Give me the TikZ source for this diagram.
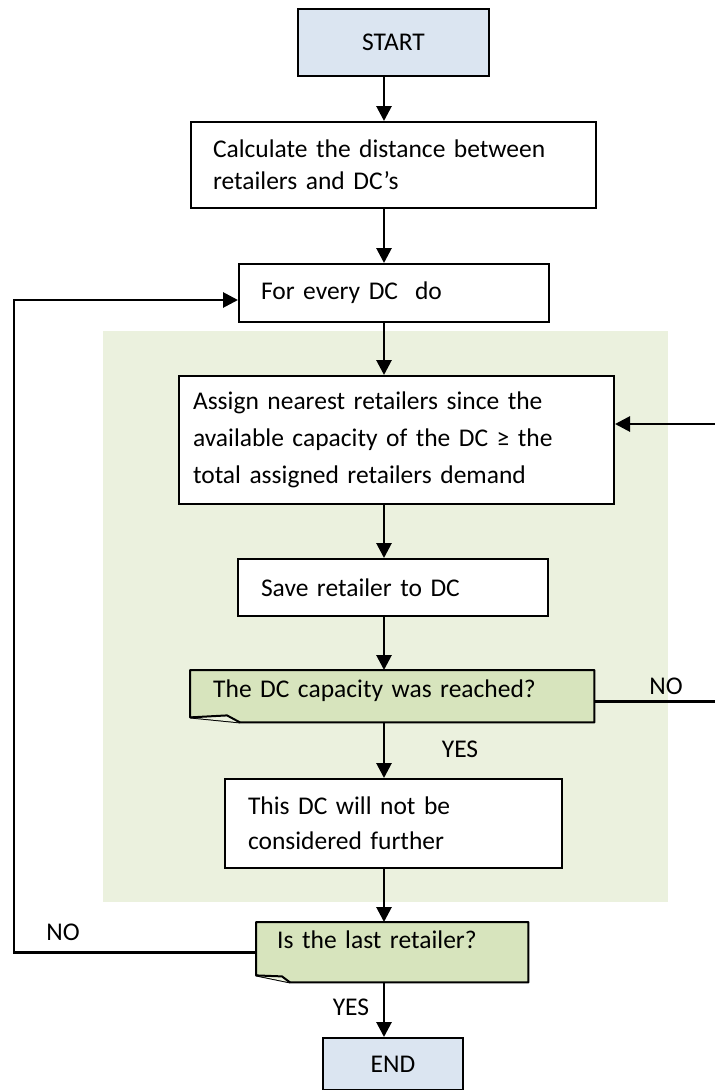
\documentclass[tikz,border=0pt]{standalone}
\usepackage{fontspec}
\setmainfont{Carlito}
\usetikzlibrary{arrows.meta,positioning,backgrounds}
\definecolor{termfill}{RGB}{219,229,241}
\definecolor{decfill}{RGB}{215,228,189}
\definecolor{loopfill}{RGB}{235,241,222}
\newcommand{\boxfont}{\fontsize{25.5}{35}\selectfont}
\tikzstyle{startstop} = [rectangle, anchor=north west, draw=black, line width=2pt, fill=termfill, font=\boxfont, inner sep=0pt]
\tikzstyle{process} = [rectangle, anchor=north west, draw=black, line width=2pt, fill=white, align=left, font=\boxfont, inner ysep=0pt]
\tikzstyle{decision} = [rectangle, anchor=north west, align=left, font=\boxfont, inner ysep=8pt]
\tikzstyle{decshape} = [draw=black, line width=2pt, fill=decfill, line join=round]
\tikzstyle{answer} = [font=\boxfont, inner sep=0pt]
\tikzstyle{arrow} = [line width=2.8pt, -{Triangle[length=15pt,width=15pt]}]

\begin{document}
\begin{tikzpicture}[x=1pt, y=-1pt]
\useasboundingbox (0,0) rectangle (715,1090);

\node (start) [startstop, minimum width=191pt, minimum height=67pt] at (297,8) {START};
\node (calc) [process, text width=361pt, inner xsep=22pt, minimum height=86pt, font=\fontsize{25.5}{32}\selectfont] at (190,121) {Calculate the distance between\\retailers and DC's};
\node (forevery) [process, text width=266pt, inner xsep=22pt, minimum height=58pt] at (238,263) {For every DC~ do};
\node (assign) [process, text width=407pt, inner xsep=14pt, minimum height=128pt, font=\fontsize{25.5}{37}\selectfont] at (178,375) {Assign nearest retailers since the\\available capacity of the DC ≥ the\\total assigned retailers demand};
\node (save) [process, text width=264pt, inner xsep=23pt, minimum height=57pt] at (237,558) {Save retailer to DC};
\node (dec1) [decision, text width=358pt, inner xsep=23pt, text height=19pt, text depth=17pt] at (190,670) {The DC capacity was reached?};
\node (drop) [process, text width=291pt, inner xsep=23pt, minimum height=89pt] at (224,778) {This DC will not be\\considered further};
\node (dec2) [decision, text width=230pt, inner xsep=21pt, text height=18pt, text depth=26pt] at (256,922) {Is the last retailer?};
\node (end) [startstop, minimum width=140pt, minimum height=52pt] at (322,1037) {END};

\node (yes1) [answer] at (460,749) {YES};
\node (no1) [answer] at (666,686) {NO};
\node (yes2) [answer] at (351,1007) {YES};
\node (no2) [answer] at (63,932) {NO};

% column of the main flow and the two return lines
\coordinate (axis) at (384,0);
\coordinate (rim) at (14,0);
\coordinate (edge) at (717,0);
\coordinate (noout) at ([yshift=-5pt]dec1.east);
\coordinate (noin) at ([yshift=16pt]assign.east);
\coordinate (loopin) at ([yshift=-7pt]forevery.west);

\draw [arrow] (start.south -| axis) -- (calc.north -| axis);
\draw [arrow] (calc.south -| axis) -- (forevery.north -| axis);
\draw [arrow] (forevery.south -| axis) -- (assign.north -| axis);
\draw [arrow] (assign.south -| axis) -- (save.north -| axis);
\draw [arrow] (save.south -| axis) -- (dec1.north -| axis);
\draw [arrow] (dec1.south -| axis) -- (drop.north -| axis);
\draw [arrow] (drop.south -| axis) -- (dec2.north -| axis);
\draw [arrow] (dec2.south -| axis) -- (end.north -| axis);
\draw [arrow] (noout) -- (noout -| edge) |- (noin);
\draw [arrow] (dec2.west) -- (dec2.west -| rim) |- (loopin);

\begin{pgfonlayer}{background}
% shaded block around the inner loop
\fill [loopfill] (103,331) rectangle (668,902);
% decision boxes with a folded lower left corner
\filldraw [decshape] (dec1.north west) -- (dec1.north east) -- (dec1.south east) -- ([xshift=50pt]dec1.south west) -- ([yshift=5pt]dec1.south west) -- cycle;
\filldraw [decshape, fill=decfill!50] ([yshift=5pt]dec1.south west) -- ([xshift=37pt,yshift=7pt]dec1.south west) -- ([xshift=50pt]dec1.south west);
\filldraw [decshape] (dec2.north west) -- (dec2.north east) -- (dec2.south east) -- ([xshift=34pt]dec2.south west) -- ([yshift=7pt]dec2.south west) -- cycle;
\filldraw [decshape, fill=decfill!50] ([yshift=7pt]dec2.south west) -- ([xshift=26pt,yshift=6pt]dec2.south west) -- ([xshift=34pt]dec2.south west);
\end{pgfonlayer}

\end{tikzpicture}
\end{document}
